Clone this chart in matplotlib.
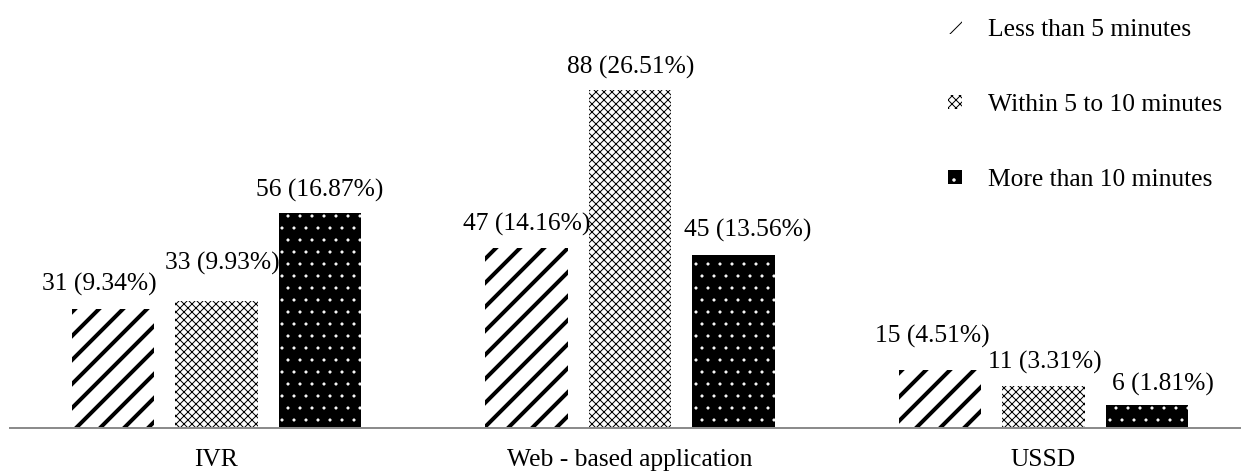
import matplotlib
matplotlib.use("Agg")
import matplotlib.pyplot as plt
import numpy as np

categories = ["IVR", "Web - based application", "USSD"]
series = ["Less than 5 minutes", "Within 5 to 10 minutes", "More than 10 minutes"]
counts = [
    [31, 47, 15],   # less than 5 minutes
    [33, 88, 11],   # within 5 to 10 minutes
    [56, 45, 6],    # more than 10 minutes
]
percents = [
    [9.34, 14.16, 4.51],
    [9.93, 26.51, 3.31],
    [16.87, 13.56, 1.81],
]

# label nudges in px (dx, dy above bar top) per series / category
label_dx = [[-14, 0, -8], [6, 1, 1], [0, 14, 16]]
label_dy = [[18, 17, 28], [32, 17, 17], [16, 19, 14]]

plt.rcParams["font.family"] = ["Liberation Serif", "DejaVu Serif"]
FS = 25.5

fig = plt.figure(figsize=(1249 / 72, 476 / 72), dpi=72)
ax = fig.add_axes([10 / 1249, 48 / 476, 1230 / 1249, 384 / 476])

x = np.arange(len(categories))
offsets = [-0.25, 0, 0.25]
width = 0.2
styles = [
    dict(facecolor="white", edgecolor="black", hatch="/", hlw=4.0),
    dict(facecolor="white", edgecolor="black", hatch="xxx", hlw=1.0),
    dict(facecolor="black", edgecolor="white", hatch=".", hlw=0.6),
]

handles = []
for i, name in enumerate(series):
    st = styles[i]
    with plt.rc_context({"hatch.linewidth": st["hlw"]}):
        bars = ax.bar(x + offsets[i], counts[i], width, facecolor=st["facecolor"],
                      edgecolor=st["edgecolor"], hatch=st["hatch"], linewidth=0,
                      label=name)
    handles.append(bars)
    for j, b in enumerate(bars):
        ax.annotate(f"{counts[i][j]} ({percents[i][j]:.2f}%)",
                    xy=(b.get_x() + b.get_width() / 2, b.get_height()),
                    xytext=(label_dx[i][j], label_dy[i][j]), textcoords="offset points",
                    ha="center", va="baseline", fontsize=FS)

for j, cat in enumerate(categories):
    ax.annotate(cat, xy=(x[j], 0), xytext=(0, -38), textcoords="offset points",
                ha="center", va="baseline", fontsize=FS, annotation_clip=False)

ax.set_xlim(-0.4994, 2.4752)
ax.set_ylim(0, 100)
ax.set_xticks([])
ax.set_yticks([])
for s in ["top", "left", "right"]:
    ax.spines[s].set_visible(False)
ax.spines["bottom"].set_color("#8c8c8c")
ax.spines["bottom"].set_linewidth(2)

ax.legend(handles=handles, loc="upper left", bbox_to_anchor=(948 / 1249, 1 - 19 / 476),
          bbox_transform=fig.transFigure, frameon=False, fontsize=FS,
          handlelength=0.55, handleheight=0.5, handletextpad=1.0,
          labelspacing=2.08, borderpad=0, borderaxespad=0)

fig.savefig("out.png", dpi=72)
